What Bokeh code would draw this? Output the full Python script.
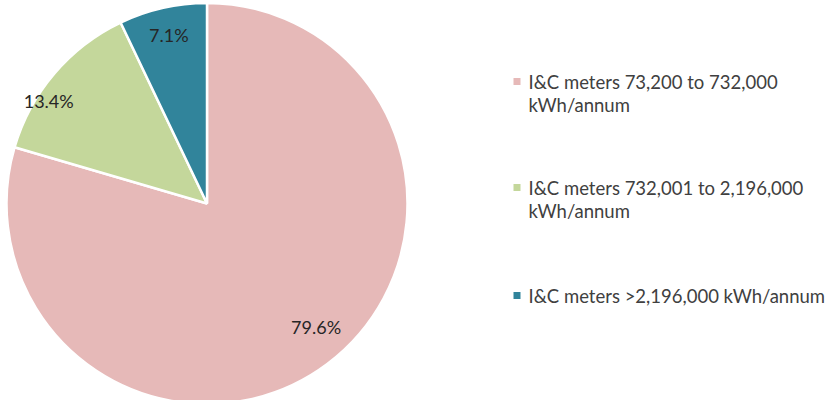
import math
from bokeh.plotting import figure
from bokeh.models import Range1d, ColumnDataSource
from bokeh.core.properties import value
from bokeh.embed import file_html
from bokeh.resources import INLINE

categories = ["I&C meters 73,200 to 732,000\nkWh/annum",
              "I&C meters 732,001 to 2,196,000\nkWh/annum",
              "I&C meters >2,196,000 kWh/annum"]
shares = [79.6, 13.4, 7.1]
labels = ["79.6%", "13.4%", "7.1%"]
colors = ["#E6B9B8", "#C4D79B", "#31849B"]

W, H = 832, 400
p = figure(width=W, height=H, output_backend="svg", toolbar_location=None,
           x_range=Range1d(0, W), y_range=Range1d(0, H), min_border=0)
p.axis.visible = False
p.grid.visible = False
p.outline_line_color = None
p.background_fill_color = "white"

cx, cy, R = 206.5, 197, 200.5
total = sum(shares)
starts, ends, mids = [], [], []
a = math.pi / 2
for s in shares:
    sweep = 2 * math.pi * s / total
    starts.append(a)
    ends.append(a - sweep)
    mids.append(a - sweep / 2)
    a -= sweep

src = ColumnDataSource(dict(start=starts, end=ends, color=colors))
p.wedge(x=cx, y=cy, radius=R, start_angle="start", end_angle="end",
        direction="clock", fill_color="color", line_color="white", line_width=2.5,
        source=src)

# data labels (Excel best-fit placement: radius fraction and angle shift)
r_frac = [0.82, 0.94, 0.86]
ang_shift = [4.7, 7.5, 0.0]
lx = [cx + R * f * math.cos(m + math.radians(d)) for f, m, d in zip(r_frac, mids, ang_shift)]
ly = [cy + R * f * math.sin(m + math.radians(d)) for f, m, d in zip(r_frac, mids, ang_shift)]
p.text(x=lx, y=ly, text=labels, text_font=value("Lato"), text_font_size="18px",
       text_color="#262626", text_align="center", text_baseline="middle")

# legend
leg_y = [319, 213, 105]
p.rect(x=[516.5] * 3, y=leg_y, width=7, height=7, fill_color=colors, line_color=None)
p.text(x=[528] * 3, y=[v + 11 for v in leg_y], text=categories, text_font=value("Lato"),
       text_font_size="18.5px", text_color="#404040", text_align="left",
       text_baseline="top", text_line_height=1.08)

open("out.html", "w").write(file_html(p, INLINE))
